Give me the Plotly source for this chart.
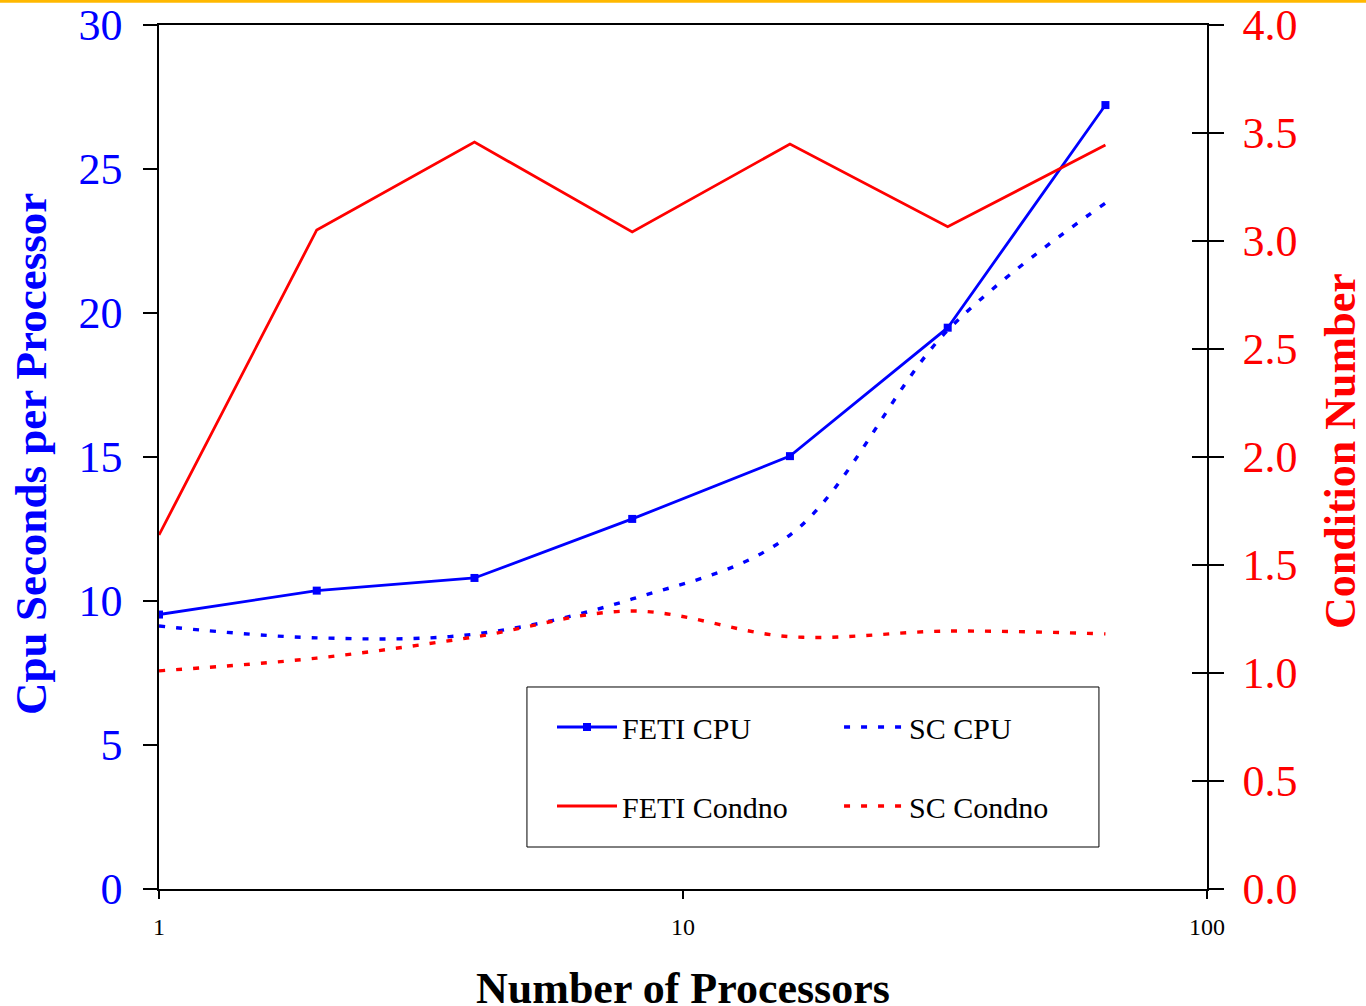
import plotly.graph_objects as go

# Processor counts and measurements
processors = [1, 2, 4, 8, 16, 32, 64]
feti_cpu = [9.53, 10.36, 10.80, 12.85, 15.03, 19.49, 27.22]
sc_cpu = [9.13, 8.72, 8.85, 10.07, 12.29, 19.40, 23.82]
feti_condno = [1.639, 3.051, 3.458, 3.042, 3.449, 3.066, 3.444]
sc_condno = [1.010, 1.069, 1.167, 1.287, 1.168, 1.194, 1.181]

x_tick_vals = [1, 10, 100]
x_tick_text = ["1", "10", "100"]

BLUE = "#0000FF"
RED = "#FF0000"
SERIF = "Liberation Serif, Times New Roman, serif"

fig = go.Figure()

fig.add_trace(go.Scatter(
    x=processors, y=feti_cpu, name="FETI CPU", mode="lines+markers",
    line=dict(color=BLUE, width=2.8),
    marker=dict(symbol="square", size=8, color=BLUE),
    yaxis="y", legend="legend", legendgroup="a",
))
fig.add_trace(go.Scatter(
    x=processors, y=feti_condno, name="FETI Condno", mode="lines",
    line=dict(color=RED, width=2.8),
    yaxis="y2", legend="legend", legendgroup="b",
))
fig.add_trace(go.Scatter(
    x=processors, y=sc_cpu, name="SC CPU", mode="lines",
    line=dict(color=BLUE, width=3.4, dash="6px,11px", shape="spline", smoothing=1),
    yaxis="y", legend="legend2", legendgroup="c",
))
fig.add_trace(go.Scatter(
    x=processors, y=sc_condno, name="SC Condno", mode="lines",
    line=dict(color=RED, width=3.4, dash="6px,11px", shape="spline", smoothing=1),
    yaxis="y3", legend="legend2", legendgroup="d",
))

legend_common = dict(
    font=dict(family=SERIF, size=30, color="black"),
    bgcolor="rgba(0,0,0,0)", borderwidth=0,
    orientation="v", traceorder="grouped", tracegroupgap=37,
    itemwidth=60, xanchor="left", yanchor="top",
)

fig.update_layout(
    width=1366, height=1006,
    margin=dict(l=159, r=159, t=25, b=117, autoexpand=False),
    paper_bgcolor="white", plot_bgcolor="white",
    font=dict(family=SERIF),
    showlegend=True,
    legend=dict(x=0.3750, y=0.2176, **legend_common),
    legend2=dict(x=0.6489, y=0.2176, **legend_common),
    xaxis=dict(
        type="log", range=[0, 2], automargin=False,
        tickvals=x_tick_vals, ticktext=x_tick_text,
        ticks="outside", ticklen=8, tickwidth=1.5, tickcolor="black",
        tickfont=dict(family=SERIF, size=24, color="black"),
        ticklabelstandoff=7,
        showline=True, linecolor="black", linewidth=1.5, mirror=True,
        showgrid=False, zeroline=False,
    ),
    yaxis=dict(
        range=[0, 30], dtick=5, tick0=0, automargin=False,
        ticks="outside", ticklen=14, tickwidth=1.5, tickcolor="black",
        tickfont=dict(family=SERIF, size=44, color=BLUE),
        ticklabelstandoff=12,
        showline=True, linecolor="black", linewidth=1.5,
        showgrid=False, zeroline=False,
    ),
    yaxis2=dict(
        overlaying="y", side="right", anchor="x", automargin=False,
        range=[0, 4], dtick=0.5, tick0=0, tickformat=".1f",
        ticks="outside", ticklen=15, tickwidth=1.5, tickcolor="black",
        tickfont=dict(family=SERIF, size=44, color=RED),
        ticklabelstandoff=10,
        showline=True, linecolor="black", linewidth=1.5,
        showgrid=False, zeroline=False,
    ),
    yaxis3=dict(
        overlaying="y", side="right", anchor="x", automargin=False,
        range=[0, 4], dtick=0.5, tick0=0,
        ticks="inside", ticklen=15, tickwidth=1.5, tickcolor="black",
        showticklabels=False,
        showline=False, showgrid=False, zeroline=False,
    ),
)

# Legend frame around both legend columns
fig.add_shape(type="rect", xref="paper", yref="paper",
              x0=0.3511, x1=0.8969, y0=0.0486, y1=0.2338,
              line=dict(color="black", width=1), fillcolor="rgba(0,0,0,0)")

# Orange accent strip along the top edge of the page
fig.add_shape(type="line", xref="paper", yref="paper",
              x0=-0.16, x1=1.16, y0=1.0275, y1=1.0275,
              line=dict(color="rgb(255,184,0)", width=3))

# Axis titles
fig.add_annotation(text="<b>Cpu Seconds per Processor</b>", xref="paper", yref="paper",
                   x=-0.1222, y=0.5035, textangle=-90, showarrow=False,
                   xanchor="center", yanchor="middle",
                   font=dict(family=SERIF, size=45, color=BLUE))
fig.add_annotation(text="<b>Condition Number</b>", xref="paper", yref="paper",
                   x=1.1279, y=0.507, textangle=-90, showarrow=False,
                   xanchor="center", yanchor="middle",
                   font=dict(family=SERIF, size=44, color=RED))
fig.add_annotation(text="<b>Number of Processors</b>", xref="paper", yref="paper",
                   x=0.5, y=-0.1155, showarrow=False,
                   xanchor="center", yanchor="middle",
                   font=dict(family=SERIF, size=44, color="black"))

fig.write_html("out.html")
